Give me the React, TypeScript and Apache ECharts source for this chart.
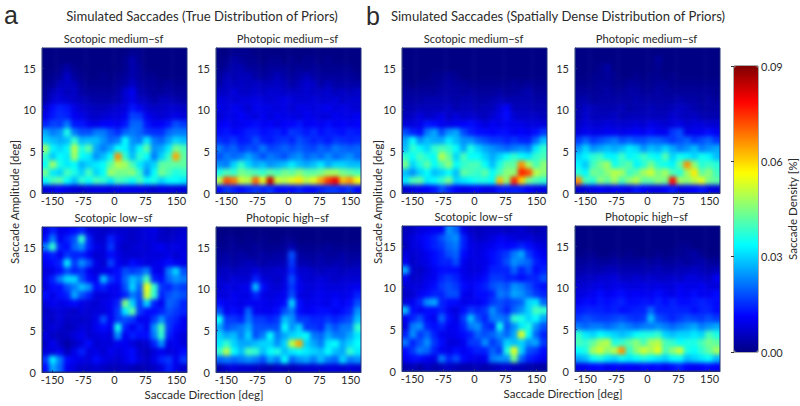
import React, { useEffect, useRef } from "react";
import * as echarts from "echarts";

const xTicks = [-150, -75, 0, 75, 150];
const yTicks = [0, 5, 10, 15];
const barTicks = [0, 0.03, 0.06, 0.09];
const jet = ["#000085", "#0000ff", "#0080ff", "#00ffff", "#80ff80", "#ffff00", "#ff8000", "#ff0000", "#800000"];

// density in units of 0.001 %, rows from amplitude 17 (top) down to 0, columns from -175 to 175
const trueScotopicMedium = [
  [0,0,0,0,0,0,0,0,0,0,0,0,1,1,0,0,0,0,0,0],
  [0,0,0,0,0,0,0,0,0,0,0,1,4,1,0,0,0,0,0,0],
  [0,0,1,3,1,0,0,0,0,0,0,1,4,2,0,0,0,0,0,0],
  [0,1,2,6,2,1,0,0,1,0,1,2,4,2,1,1,0,0,0,0],
  [1,2,5,6,5,2,1,1,1,1,2,3,6,3,2,2,1,2,1,1],
  [2,5,7,5,6,3,2,2,2,2,3,7,10,4,3,2,2,3,2,2],
  [3,7,8,7,6,5,4,3,3,3,4,7,9,6,5,3,5,5,4,3],
  [7,12,14,13,9,7,6,5,5,6,7,8,13,10,7,6,6,7,7,6],
  [9,13,15,14,10,9,7,6,7,8,8,10,17,16,10,8,7,8,9,8],
  [14,17,16,22,13,13,10,9,11,11,10,13,20,20,13,10,11,13,18,16],
  [26,22,24,36,22,18,18,22,22,18,15,20,22,20,16,15,15,20,22,22],
  [30,28,26,28,38,27,28,28,24,20,22,34,24,22,32,22,20,25,30,28],
  [47,33,30,33,50,36,42,26,22,26,34,33,26,34,42,24,26,32,44,40],
  [38,29,34,32,48,34,32,24,28,34,66,38,28,38,34,22,30,38,64,42],
  [34,48,36,32,34,27,30,32,34,42,50,48,40,32,27,30,42,42,42,42],
  [44,32,30,40,36,30,40,30,34,48,44,44,46,38,24,34,44,40,36,38],
  [34,40,42,34,28,38,34,40,38,32,40,38,34,40,34,36,30,34,34,32],
  [8,9,11,9,8,7,8,9,9,8,9,10,9,9,8,7,9,8,8,8],
];
const truePhotopicMedium = [
  [0,0,1,1,1,0,0,0,0,0,0,0,0,0,0,0,0,0,0,0],
  [0,1,3,2,1,1,0,1,1,0,1,0,1,1,0,1,0,0,0,0],
  [1,2,4,4,2,2,1,2,2,2,1,2,1,2,1,1,1,1,1,0],
  [2,5,4,5,5,3,2,3,5,3,2,3,5,3,2,2,2,2,2,1],
  [3,6,5,6,5,6,5,5,6,5,3,5,7,6,3,5,3,3,3,3],
  [6,6,8,6,6,7,6,7,7,6,6,6,7,6,6,7,5,6,5,6],
  [8,8,7,8,8,9,8,7,8,9,8,7,7,8,7,7,8,6,7,7],
  [9,8,10,9,7,10,9,9,8,9,7,9,9,8,9,10,8,9,8,7],
  [7,9,9,11,9,8,10,8,10,9,9,8,10,9,8,8,10,9,9,10],
  [10,11,9,10,11,12,10,11,9,11,11,13,10,11,10,12,10,11,10,11],
  [12,13,11,12,14,14,12,13,14,12,16,15,13,15,12,14,13,12,14,13],
  [15,14,16,13,14,18,14,13,15,16,14,18,16,14,15,13,16,15,14,15],
  [22,18,20,16,18,17,22,17,18,20,18,20,18,17,20,18,22,20,19,20],
  [18,22,20,22,26,22,18,22,20,18,22,24,20,22,20,24,20,22,24,20],
  [24,22,30,38,30,26,28,24,26,28,32,28,26,28,32,26,30,30,28,28],
  [36,40,38,44,42,40,38,42,40,44,42,46,42,42,44,48,48,44,42,40],
  [50,72,68,52,50,70,54,84,52,50,54,58,50,54,64,74,80,62,66,56],
  [12,16,14,12,14,16,14,16,12,12,12,14,12,12,14,16,16,14,16,12],
];
const trueScotopicLow = [
  [9,14,9,10,12,14,8,7,6,7,7,7,6,7,8,9,6,5,6,7],
  [12,22,10,14,18,38,14,7,7,14,9,7,6,7,8,8,6,6,7,8],
  [22,38,14,12,20,24,14,9,8,16,8,6,7,8,7,9,10,8,9,8],
  [12,14,10,16,14,14,10,7,8,12,9,7,7,7,8,8,8,9,7,9],
  [10,12,14,32,16,24,18,9,7,17,10,8,12,10,8,9,10,12,10,9],
  [8,9,12,18,14,16,10,8,9,10,12,18,16,18,22,10,9,22,30,18],
  [9,14,22,30,30,18,12,10,28,16,12,20,28,24,40,14,12,20,24,22],
  [8,12,12,18,22,28,24,12,14,10,10,18,30,20,55,38,16,14,18,16],
  [12,9,12,14,26,18,14,8,8,9,10,14,22,18,52,38,14,18,20,18],
  [8,10,9,10,12,9,8,7,9,10,14,45,30,16,30,14,10,20,18,14],
  [6,7,8,7,6,8,7,8,8,10,16,32,42,16,12,12,14,18,16,14],
  [7,6,8,6,7,6,7,9,18,10,16,18,16,10,10,16,24,16,14,10],
  [6,8,7,5,6,8,7,10,12,10,35,14,10,14,10,24,40,16,12,10],
  [8,6,5,6,8,10,7,8,9,8,24,10,14,12,12,22,38,14,10,8],
  [6,10,6,3,6,8,12,7,8,8,10,10,8,6,7,14,24,9,10,8],
  [8,8,10,5,9,14,8,9,7,10,8,10,12,7,5,8,10,8,9,12],
  [16,32,22,12,10,9,8,12,9,8,7,9,12,8,6,9,14,16,10,16],
  [12,26,20,10,8,6,6,7,6,5,5,6,5,4,5,6,8,14,9,7],
];
const truePhotopicHigh = [
  [0,0,0,0,0,0,0,0,0,0,0,0,0,0,0,0,0,0,0,0],
  [0,1,1,0,1,0,1,0,0,1,1,0,0,0,0,0,0,0,0,0],
  [1,1,2,1,1,2,1,1,1,2,4,1,1,1,1,2,1,1,1,1],
  [2,3,2,3,2,2,3,2,3,3,18,3,2,2,3,2,2,3,2,2],
  [3,4,3,4,5,4,3,4,4,5,16,4,4,3,4,3,4,4,3,4],
  [5,6,5,6,6,8,6,6,7,7,14,7,7,6,5,6,6,5,6,6],
  [7,6,8,7,7,14,8,7,6,8,18,9,7,7,8,7,6,7,7,7],
  [7,9,8,9,10,28,12,8,7,9,16,10,8,8,9,8,8,8,9,10],
  [8,8,10,9,9,14,9,8,9,10,18,9,8,9,10,9,10,9,10,14],
  [12,10,10,9,10,10,10,9,10,12,30,12,9,10,10,9,12,10,12,18],
  [18,10,12,10,20,10,10,10,12,18,22,12,10,11,12,12,10,12,14,24],
  [34,16,16,14,22,16,16,14,16,28,24,16,16,14,14,16,14,16,18,28],
  [26,18,20,22,26,18,18,18,18,34,24,30,16,16,14,22,18,22,22,38],
  [30,26,28,22,30,18,22,34,22,26,30,32,34,22,20,26,22,22,26,32],
  [32,38,30,26,26,28,30,30,24,30,50,64,30,26,22,32,34,26,30,34],
  [38,50,34,28,40,38,28,34,36,28,32,34,32,30,28,34,28,26,38,32],
  [20,22,20,22,24,22,18,26,22,34,20,24,26,22,28,22,20,30,22,24],
  [4,7,8,7,7,6,5,4,6,5,5,6,7,7,7,8,8,7,8,7],
];
const denseScotopicMedium = [
  [0,0,0,0,0,0,0,0,0,0,0,0,0,0,0,0,0,0,0,0],
  [0,0,0,0,0,0,0,0,0,0,0,0,0,0,0,0,0,0,0,0],
  [0,0,0,0,0,0,0,0,0,0,0,0,0,0,0,0,0,0,0,0],
  [0,0,0,0,1,1,2,1,0,0,0,0,0,0,0,0,0,0,0,0],
  [1,0,1,1,1,2,3,2,2,1,1,1,1,1,1,2,1,2,1,1],
  [2,2,2,2,2,3,3,3,2,3,2,2,2,3,2,2,3,4,2,2],
  [3,3,3,4,4,4,4,3,4,4,3,3,4,5,4,4,4,4,3,3],
  [4,4,5,5,5,5,6,4,5,5,4,5,5,8,11,5,5,5,4,4],
  [5,6,8,6,7,9,6,8,6,7,6,5,7,9,12,7,6,6,6,5],
  [8,8,9,13,12,10,9,10,11,12,10,8,10,9,10,9,9,8,8,8],
  [18,14,12,22,26,18,24,26,18,14,12,12,11,12,12,10,11,10,12,16],
  [26,34,24,28,26,26,32,28,24,24,20,18,16,16,14,16,14,14,20,28],
  [28,38,34,30,38,40,38,34,26,36,30,26,24,22,20,22,24,22,32,38],
  [38,34,40,36,34,50,42,30,40,34,34,30,26,30,34,38,34,32,38,40],
  [44,30,36,42,34,40,46,34,38,40,40,34,28,36,42,42,66,48,40,46],
  [28,24,30,34,28,30,34,28,42,40,38,42,34,40,46,46,76,72,50,46],
  [32,40,42,32,34,38,44,30,32,34,36,36,34,62,46,76,60,44,40,38],
  [7,9,10,11,13,18,14,11,9,10,11,9,9,13,13,14,13,11,9,9],
];
const densePhotopicMedium = [
  [0,0,0,0,0,0,0,0,0,0,0,0,0,0,0,0,0,0,0,0],
  [0,0,0,0,0,0,0,0,0,0,0,2,0,0,0,0,0,0,0,0],
  [0,0,0,1,3,0,0,0,0,0,0,1,0,0,0,0,0,0,0,0],
  [0,0,1,1,2,1,0,0,1,0,1,1,0,1,0,0,0,0,0,0],
  [1,1,1,2,2,1,1,2,2,1,1,2,2,1,1,1,1,1,1,1],
  [2,2,2,2,3,2,2,3,3,2,2,3,2,2,2,2,2,2,2,1],
  [3,4,2,3,3,3,3,3,4,3,3,3,3,3,4,3,3,2,3,2],
  [4,6,5,4,4,4,5,3,4,4,5,4,4,5,6,5,4,3,3,3],
  [4,7,5,5,5,6,4,5,5,5,5,5,5,7,6,5,6,4,4,4],
  [6,8,7,7,8,7,7,7,8,7,9,8,7,8,9,7,8,8,7,7],
  [8,10,9,9,10,10,9,10,11,10,12,10,10,16,18,9,10,10,12,10],
  [16,20,16,18,20,22,18,20,18,18,20,20,18,16,18,20,16,18,20,16],
  [24,30,24,26,28,26,28,32,30,24,28,26,30,26,22,24,28,22,24,26],
  [30,33,37,39,33,33,39,33,35,39,35,33,41,30,35,33,30,35,33,28],
  [33,29,39,44,48,35,39,42,33,37,44,37,35,33,42,66,46,37,39,37],
  [37,33,44,42,46,50,48,39,42,48,52,44,48,40,37,48,58,42,46,39],
  [66,40,37,46,42,48,40,46,50,42,42,46,44,78,48,46,50,54,44,42],
  [7,8,9,11,9,11,10,9,13,11,9,9,11,14,9,10,11,13,9,8],
];
const denseScotopicLow = [
  [5,6,8,9,10,10,24,20,9,6,5,6,6,6,5,6,7,5,4,5],
  [6,8,10,12,14,18,22,24,14,8,6,7,8,10,9,8,7,8,6,6],
  [5,8,9,12,14,16,20,22,14,9,8,9,10,12,11,12,14,12,9,8],
  [8,7,8,10,12,14,18,20,12,9,8,10,12,14,16,22,26,16,12,10],
  [10,6,8,9,12,14,14,18,10,8,9,9,12,14,18,24,22,20,14,12],
  [26,7,6,8,10,12,12,12,9,8,8,10,14,14,14,20,14,18,12,14],
  [10,6,7,9,10,14,16,14,10,9,10,12,16,16,14,14,12,14,14,18],
  [7,8,8,10,12,16,18,16,12,10,12,14,18,20,18,24,22,18,14,12],
  [6,7,10,12,14,14,18,18,10,9,12,12,14,22,20,26,24,20,16,14],
  [8,10,14,24,26,14,12,12,9,10,10,12,16,18,16,18,20,30,32,20],
  [28,12,10,12,12,14,10,8,12,16,14,16,24,18,14,20,24,30,40,38],
  [10,14,18,12,10,20,12,9,16,28,18,14,22,22,20,38,36,30,34,26],
  [8,22,24,14,12,14,10,10,14,22,24,16,14,35,18,24,32,36,24,18],
  [14,24,16,20,14,10,9,10,12,14,20,18,20,24,20,26,54,34,20,14],
  [22,14,18,24,16,12,8,8,10,16,16,24,16,20,30,28,30,24,26,16],
  [12,16,22,20,14,10,9,12,10,12,14,14,20,16,36,54,30,18,16,12],
  [10,12,12,10,9,22,14,18,12,10,9,10,22,24,24,44,20,14,12,10],
  [4,5,3,6,4,5,6,5,4,4,5,4,5,6,7,5,5,4,3,3],
];
const densePhotopicHigh = [
  [0,0,0,0,0,0,0,0,0,0,0,0,0,0,0,0,0,0,0,0],
  [0,0,0,0,0,0,0,0,0,0,0,0,0,0,0,0,0,0,0,0],
  [0,0,0,0,0,0,0,0,0,0,0,0,0,0,1,1,0,0,0,0],
  [0,1,1,0,0,1,0,1,0,0,0,1,0,1,1,2,3,1,0,0],
  [2,2,3,2,2,3,2,2,2,3,2,3,2,2,3,2,3,4,2,2],
  [3,4,4,4,5,5,4,4,4,4,4,5,4,4,5,5,6,5,4,5],
  [5,6,6,7,7,8,6,6,7,6,7,6,6,7,6,8,8,7,6,10],
  [7,7,8,9,8,9,9,8,8,9,8,9,8,8,10,9,9,10,8,8],
  [8,9,10,12,10,11,12,10,11,10,10,12,10,9,11,10,12,10,10,12],
  [10,12,11,13,12,13,14,12,12,13,12,14,12,14,12,12,13,14,13,12],
  [13,14,14,14,13,14,12,13,14,14,20,14,14,14,14,14,12,14,14,12],
  [16,18,17,16,16,17,18,16,15,16,28,18,16,14,16,18,17,16,18,16],
  [22,20,22,22,20,22,24,22,20,22,22,24,22,20,22,24,26,22,24,26],
  [38,32,30,34,32,30,28,30,34,36,36,38,30,28,30,30,32,30,40,36],
  [40,38,42,48,50,36,38,42,46,40,48,50,40,38,34,36,36,40,44,42],
  [34,36,48,52,46,50,66,38,46,52,48,54,40,46,52,36,34,38,42,48],
  [26,28,34,36,32,30,34,32,34,36,34,32,30,34,34,28,30,32,34,28],
  [9,10,11,12,10,11,10,11,10,12,11,12,10,12,14,11,10,11,12,11],
];

const panels = [
  { title: "Scotopic medium−sf", x: 42, y: 48, values: trueScotopicMedium },
  { title: "Photopic medium−sf", x: 216, y: 48, values: truePhotopicMedium },
  { title: "Scotopic low−sf", x: 42, y: 227, values: trueScotopicLow },
  { title: "Photopic high−sf", x: 216, y: 227, values: truePhotopicHigh },
  { title: "Scotopic medium−sf", x: 402, y: 48, values: denseScotopicMedium },
  { title: "Photopic medium−sf", x: 575, y: 48, values: densePhotopicMedium },
  { title: "Scotopic low−sf", x: 402, y: 226, values: denseScotopicLow },
  { title: "Photopic high−sf", x: 575, y: 226, values: densePhotopicHigh },
];

const SIZE = 145;
const COLS = 20;
const ROWS = 18;
const FONT = "Lato, 'Open Sans', sans-serif";
const TEXT = "#2b2b2b";

function heatOption(): any {
  const cw = SIZE / COLS;
  const ch = SIZE / ROWS;
  const pad = 1;
  const idx = (n: number) => Array.from({ length: n + 2 * pad }, (_, i) => i);
  return {
    animation: false,
    grid: panels.map((p) => ({
      left: p.x - cw, top: p.y - ch, width: SIZE + 2 * cw, height: SIZE + 2 * ch,
      show: false,
    })),
    xAxis: panels.map((_, i) => ({ type: "category", gridIndex: i, data: idx(COLS), show: false })),
    yAxis: panels.map((_, i) => ({ type: "category", gridIndex: i, data: idx(ROWS), inverse: true, show: false })),
    visualMap: { show: false, min: 0, max: 90, seriesIndex: panels.map((_, i) => i), inRange: { color: jet } },
    series: panels.map((p, i) => {
      const data: number[][] = [];
      for (let r = -1; r <= ROWS; r++) {
        for (let c = -1; c <= COLS; c++) {
          const rr = Math.min(ROWS - 1, Math.max(0, r));
          const cc = Math.min(COLS - 1, Math.max(0, c));
          data.push([c + 1, r + 1, p.values[rr][cc]]);
        }
      }
      return { type: "heatmap", xAxisIndex: i, yAxisIndex: i, data, silent: true, progressive: 0 };
    }),
  };
}

function frameOption(): any {
  const labelStyle = { color: TEXT, fontFamily: FONT, fontSize: 11 };
  const texts: any[] = [];
  const txt = (text: string, x: number, y: number, fontSize: number, extra: any = {}) =>
    texts.push({
      type: "text", x, y, rotation: extra.rotation || 0,
      style: { text, fill: TEXT, font: `${fontSize}px ${extra.family || FONT}`, align: "center", verticalAlign: "middle" },
    });
  txt("a", 11, 15, 25, { family: "'Liberation Sans', sans-serif" });
  txt("b", 373, 16, 25, { family: "'Liberation Sans', sans-serif" });
  txt("Simulated Saccades (True Distribution of Priors)", 202, 16, 13.1);
  txt("Simulated Saccades (Spatially Dense Distribution of Priors)", 558, 16, 13.1);
  txt("Saccade Direction [deg]", 204, 394, 11.5);
  txt("Saccade Direction [deg]", 563, 393, 11.5);
  txt("Saccade Amplitude [deg]", 14, 202, 11.5, { rotation: Math.PI / 2 });
  txt("Saccade Amplitude [deg]", 377, 202, 11.5, { rotation: Math.PI / 2 });
  panels.forEach((p) => txt(p.title, p.x + SIZE / 2 - 1, p.y - 10, 11.2));

  const frameAxis = (gridIndex: number, common: any) => ({
    gridIndex,
    axisLine: { show: true, onZero: false, lineStyle: { color: "#23327a", width: 1 } },
    splitLine: { show: false },
    ...common,
  });
  return {
    animation: false,
    backgroundColor: "transparent",
    grid: [
      ...panels.map((p) => ({ left: p.x, top: p.y, width: SIZE, height: SIZE, show: true, borderColor: "#23327a", borderWidth: 1, backgroundColor: "transparent" })),
      { left: 734, top: 66, width: 24, height: 286, show: true, borderColor: "#555", borderWidth: 1, backgroundColor: "transparent" },
    ],
    xAxis: [
      ...panels.map((_, i) =>
        frameAxis(i, {
          type: "value", min: -175, max: 175,
          axisTick: { show: true, inside: true, length: 2, customValues: xTicks, lineStyle: { color: "#23327a" } },
          axisLabel: { ...labelStyle, margin: 2, customValues: xTicks },
        })
      ),
      { type: "value", gridIndex: 8, min: 0, max: 1, show: false },
    ],
    yAxis: [
      ...panels.map((_, i) =>
        frameAxis(i, {
          type: "value", min: 0, max: 17.4,
          axisTick: { show: true, inside: true, length: 2, customValues: yTicks, lineStyle: { color: "#23327a" } },
          axisLabel: { ...labelStyle, margin: 6, customValues: yTicks },
        })
      ),
      {
        type: "value", gridIndex: 8, position: "right", min: 0, max: 0.09,
        axisLine: { show: false }, splitLine: { show: false },
        axisTick: { show: true, inside: true, length: 3, customValues: barTicks, lineStyle: { color: "#333" } },
        axisLabel: { ...labelStyle, margin: 3, customValues: barTicks, formatter: (v: number) => v.toFixed(2) },
        name: "Saccade Density [%]", nameLocation: "middle", nameRotate: 90, nameGap: 27,
        nameTextStyle: { color: TEXT, fontFamily: FONT, fontSize: 11.5 },
      },
    ],
    visualMap: {
      type: "continuous", show: true, calculable: false, realtime: false, seriesIndex: [],
      min: 0, max: 0.09, left: 734, top: 66, itemWidth: 24, itemHeight: 286, text: ["", ""], padding: 0,
      showLabel: false, inRange: { color: jet },
    },
    graphic: texts,
    series: [],
  };
}

export default function App() {
  const heatRef = useRef<HTMLDivElement>(null);
  const frameRef = useRef<HTMLDivElement>(null);
  useEffect(() => {
    const heat = echarts.init(heatRef.current!, undefined, { renderer: "svg" });
    const frame = echarts.init(frameRef.current!, undefined, { renderer: "svg" });
    heat.setOption(heatOption());
    frame.setOption(frameOption());
    return () => {
      heat.dispose();
      frame.dispose();
    };
  }, []);
  const clip = panels.map((p) => `M${p.x} ${p.y}h${SIZE}v${SIZE}h-${SIZE}z`).join(" ");
  return (
    <div style={{ position: "fixed", left: 0, top: 0, width: 800, height: 406, background: "#fff", overflow: "hidden" }}>
      <div style={{ position: "absolute", inset: 0, clipPath: `path("${clip}")` }}>
        <div ref={heatRef} style={{ width: 800, height: 406, filter: "blur(2.2px)" }} />
      </div>
      <div ref={frameRef} style={{ position: "absolute", left: 0, top: 0, width: 800, height: 406 }} />
    </div>
  );
}
